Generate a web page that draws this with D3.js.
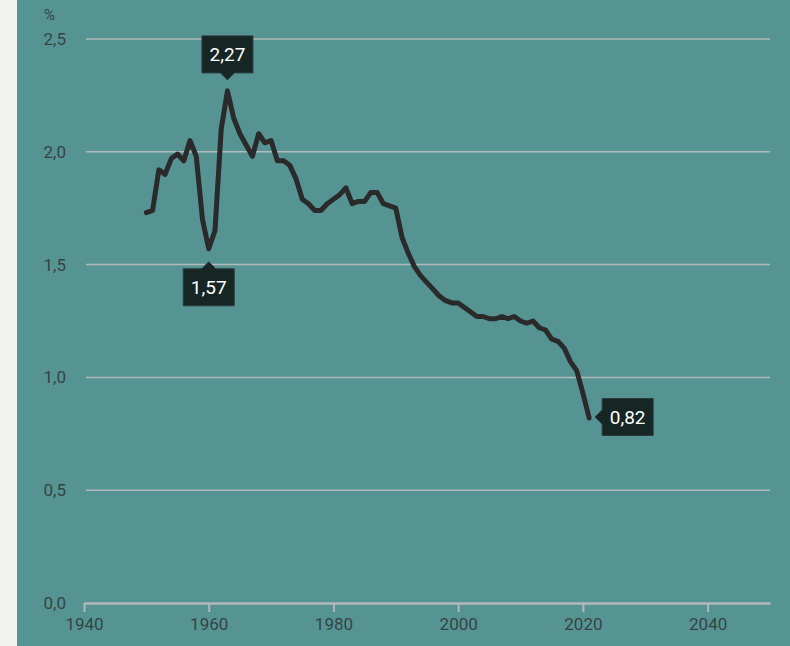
<!DOCTYPE html>
<html>
<head>
<meta charset="utf-8">
<script src="https://cdn.jsdelivr.net/npm/d3@7"></script>
<style>
  body { margin: 0; background: #f2f2f0; }
  svg { display: block; font-family: Roboto, "Noto Sans", sans-serif; }
</style>
</head>
<body>
<script>
// values
const years = d3.range(1950, 2022);
const values = [
  1.73, 1.74, 1.92, 1.90, 1.97, 1.99, 1.96, 2.05, 1.98, 1.70,
  1.57, 1.65, 2.10, 2.27, 2.15, 2.08, 2.03, 1.98, 2.08, 2.04,
  2.05, 1.96, 1.96, 1.94, 1.88, 1.79, 1.77, 1.74, 1.74, 1.77,
  1.79, 1.81, 1.84, 1.77, 1.78, 1.78, 1.82, 1.82, 1.77, 1.76,
  1.75, 1.62, 1.55, 1.49, 1.45, 1.42, 1.39, 1.36, 1.34, 1.33,
  1.33, 1.31, 1.29, 1.27, 1.27, 1.26, 1.26, 1.27, 1.26, 1.27,
  1.25, 1.24, 1.25, 1.22, 1.21, 1.17, 1.16, 1.13, 1.07, 1.03,
  0.93, 0.82
];
const yTicks = [0, 0.5, 1, 1.5, 2, 2.5];
const xTicks = [1940, 1960, 1980, 2000, 2020, 2040];
const unitLabel = "%";

const W = 790, H = 646;
const locale = d3.formatLocale({decimal: ",", thousands: ".", grouping: [3], currency: ["", ""]});
const fmt1 = locale.format(".1f"), fmt2 = locale.format(".2f");

const svg = d3.select("body").append("svg")
    .attr("width", W)
    .attr("height", H);

// teal panel
svg.append("rect")
    .attr("x", 17).attr("y", 0)
    .attr("width", W - 17).attr("height", H)
    .attr("fill", "#569494");

const x = d3.scaleLinear().domain([1940, 2050]).range([84, 770]);
const y = d3.scaleLinear().domain([0, 2.5]).range([603, 39]);

// gridlines
svg.append("g")
  .selectAll("line")
  .data(yTicks.filter(d => d > 0))
  .join("line")
    .attr("x1", 86).attr("x2", 770)
    .attr("y1", d => y(d)).attr("y2", d => y(d))
    .attr("stroke", "#b3b9b9")
    .attr("stroke-width", 1.5);

// x axis
const gx = svg.append("g")
    .attr("transform", "translate(0," + y(0) + ")")
    .call(d3.axisBottom(x).tickValues(xTicks).tickFormat(d3.format("d"))
        .tickSize(9).tickSizeOuter(0).tickPadding(6));
gx.select(".domain").attr("stroke", "#b3b9b9").attr("stroke-width", 2.5);
gx.selectAll(".tick line").attr("stroke", "#b3b9b9").attr("stroke-width", 2);
gx.selectAll(".tick text")
    .attr("fill", "#344444")
    .attr("font-size", 17)
    .attr("font-family", "Roboto, sans-serif");

// y axis
const gy = svg.append("g")
    .attr("transform", "translate(70,0)")
    .call(d3.axisLeft(y).tickValues(yTicks).tickFormat(fmt1).tickSize(0).tickPadding(4));
gy.select(".domain").remove();
gy.selectAll(".tick text")
    .attr("fill", "#344444")
    .attr("font-size", 17)
    .attr("font-family", "Roboto, sans-serif");

svg.append("text")
    .attr("x", 44).attr("y", 20)
    .attr("fill", "#344444")
    .attr("font-size", 15)
    .text(unitLabel);

// the line
const line = d3.line()
    .x((d, i) => x(years[i]))
    .y(d => y(d));

svg.append("path")
    .datum(values)
    .attr("d", line)
    .attr("fill", "none")
    .attr("stroke", "#2a2a2a")
    .attr("stroke-width", 5)
    .attr("stroke-linejoin", "round")
    .attr("stroke-linecap", "round");

// callouts: max, min, last
const iMax = d3.maxIndex(values), iMin = d3.minIndex(values.slice(0, 30));
const iLast = values.length - 1;
const callouts = [
  {i: iMax, dir: "up"},
  {i: iMin, dir: "down"},
  {i: iLast, dir: "right"}
];

const bw = 51, bh = 37, pw = 7, gap = 11;
callouts.forEach(c => {
  const px = x(years[c.i]), py = y(values[c.i]);
  let bx, by, path;
  if (c.dir === "up") {
    const tipY = py - gap;
    bx = px - bw / 2; by = tipY - pw - bh;
    path = `M${bx},${by}h${bw}v${bh}h${-(bw / 2 - pw)}l${-pw},${pw}l${-pw},${-pw}h${-(bw / 2 - pw)}z`;
  } else if (c.dir === "down") {
    const tipY = py + gap + 2;
    bx = px - bw / 2; by = tipY + pw;
    path = `M${bx},${by}h${bw / 2 - pw}l${pw},${-pw}l${pw},${pw}h${bw / 2 - pw}v${bh}h${-bw}z`;
  } else {
    const tipX = px + 6;
    bx = tipX + pw; by = py - bh / 2 - 1;
    path = `M${bx},${by}h${bw}v${bh}h${-bw}v${-(bh / 2 - pw)}l${-pw},${-pw}l${pw},${-pw}z`;
  }
  svg.append("path")
      .attr("d", path)
      .attr("fill", "#162625")
      .attr("stroke", "#2c3a3a")
      .attr("stroke-width", 1)
      .attr("stroke-linejoin", "round");
  svg.append("text")
      .attr("x", bx + bw / 2)
      .attr("y", by + bh / 2)
      .attr("dy", "0.36em")
      .attr("text-anchor", "middle")
      .attr("fill", "#ffffff")
      .attr("font-size", 19)
      .attr("font-weight", 400)
      .text(fmt2(values[c.i]));
});
</script>
</body>
</html>
